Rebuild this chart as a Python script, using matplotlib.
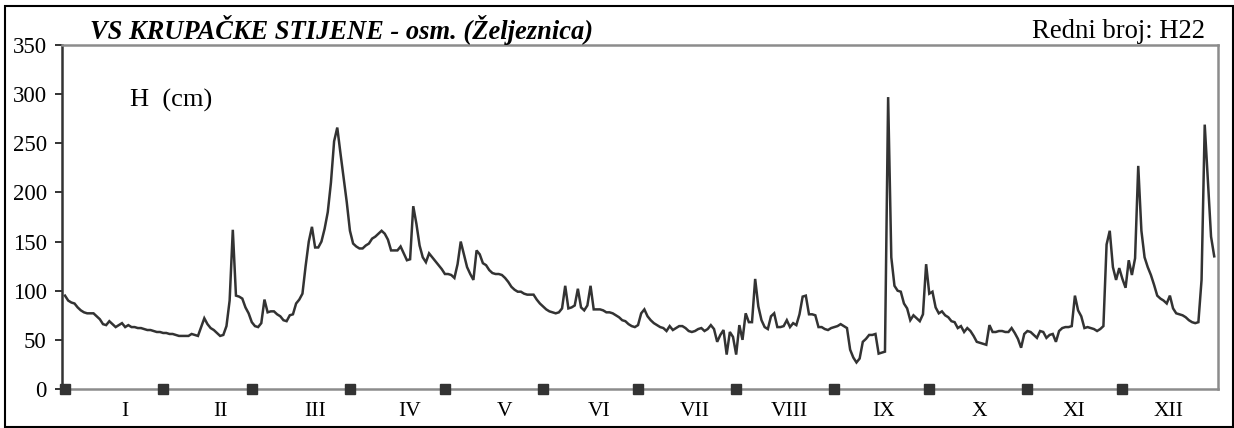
import matplotlib
matplotlib.use("Agg")
import matplotlib.pyplot as plt
import matplotlib.transforms as mtransforms
from matplotlib.patches import Rectangle
import numpy as np

plt.rcParams['font.family'] = ['Liberation Serif', 'DejaVu Serif']

# daily water level H (cm), read month by month
jan = [95, 90, 88, 87, 83, 80, 78, 77, 77, 77, 74, 71, 66, 65, 69, 66, 63, 65, 67, 63,
       65, 63, 63, 62, 62, 61, 60, 60, 59, 58, 58]
feb = [57, 57, 56, 56, 55, 54, 54, 54, 54, 56, 55, 54, 63, 72, 66, 62, 60, 57, 54, 55,
       64, 90, 162, 95, 94, 92, 83, 77]
mar = [68, 64, 63, 67, 91, 78, 79, 79, 76, 74, 70, 69, 75, 76, 87, 91, 97, 125, 150, 165,
       144, 144, 150, 163, 180, 210, 252, 266, 240, 215, 190]
apr = [161, 148, 145, 143, 143, 146, 148, 153, 155, 158, 161, 158, 152, 141, 141, 141, 145, 138, 131, 132,
       186, 168, 146, 134, 129, 138, 134, 130, 126, 122]
may = [117, 117, 116, 113, 127, 150, 137, 124, 117, 111, 141, 137, 128, 126, 121, 118, 117, 117, 116, 113,
       109, 104, 101, 99, 99, 97, 96, 96, 96, 91, 87]
jun = [84, 81, 79, 78, 77, 78, 82, 105, 82, 83, 85, 102, 83, 80, 85, 105, 81, 81, 81, 80,
       78, 78, 77, 75, 73, 70, 69, 66, 64, 63]
jul = [65, 77, 81, 74, 70, 67, 65, 63, 62, 59, 64, 60, 62, 64, 64, 62, 59, 58, 59, 61,
       62, 59, 61, 65, 61, 48, 55, 60, 35, 58, 53]
aug = [35, 65, 50, 77, 68, 68, 112, 84, 70, 63, 61, 74, 77, 63, 63, 64, 70, 63, 67, 65,
       76, 94, 95, 76, 76, 75, 63, 63, 61, 60, 62]
sep = [63, 64, 66, 64, 62, 40, 32, 27, 31, 48, 51, 55, 55, 56, 36, 37, 38, 297, 134, 105,
       100, 99, 87, 82, 70, 75, 72, 69, 76, 127]
oct_ = [97, 99, 83, 77, 79, 75, 73, 69, 68, 62, 64, 58, 62, 59, 54, 48, 47, 46, 45, 65,
        58, 58, 59, 59, 58, 58, 62, 57, 51, 42, 56]
nov = [59, 58, 55, 52, 59, 58, 52, 55, 56, 48, 59, 62, 63, 63, 64, 95, 80, 74, 62, 63,
       62, 61, 59, 61, 64, 147, 161, 124, 111, 123]
dec = [112, 103, 131, 116, 133, 227, 161, 134, 124, 116, 106, 95, 92, 90, 87, 95, 82, 77, 76, 75,
       73, 70, 68, 67, 68, 111, 269, 212, 155, 135]

months = [jan, feb, mar, apr, may, jun, jul, aug, sep, oct_, nov, dec]
month_labels = ['I', 'II', 'III', 'IV', 'V', 'VI', 'VII', 'VIII', 'IX', 'X', 'XI', 'XII']
month_starts = [0, 31, 59, 90, 120, 151, 181, 212, 243, 273, 304, 334]
y_ticks = [0, 50, 100, 150, 200, 250, 300, 350]

h = np.concatenate(months)
days = np.arange(len(h))

fig = plt.figure(figsize=(12.34, 4.28), dpi=100)
ax = fig.add_axes([62 / 1234, 1 - 389 / 428, 1155.7 / 1234, 344 / 428])

ax.plot(days, h, color='#333333', linewidth=1.8, solid_joinstyle='miter')
ax.plot(month_starts, np.zeros(len(month_starts)), 's', color='#333333',
        markersize=6.5, clip_on=False, zorder=5)

ax.set_xlim(-0.95, 364.1)
ax.set_ylim(0, 350)
ax.set_yticks(y_ticks)
ax.set_xticks([])
ax.tick_params(axis='y', direction='out', length=5, width=1.4, color='#333333',
               labelsize=16.5, pad=6)

for side in ['top', 'right', 'bottom']:
    ax.spines[side].set_color('#8c8c8c')
    ax.spines[side].set_linewidth(1.8)
ax.spines['left'].set_color('#333333')
ax.spines['left'].set_linewidth(1.8)

# month names under the axis, evenly spaced
trans = mtransforms.blended_transform_factory(ax.transData, fig.transFigure)
for i, lab in enumerate(month_labels):
    ax.text(19 + 29.96 * i, 1 - 411 / 428, lab, transform=trans, ha='center', va='center',
            fontsize=15.5)

ax.text(130 / 1234, 1 - 100 / 428, 'H  (cm)', transform=fig.transFigure, ha='left', va='center',
        fontsize=19)

fig.text(90 / 1234, 1 - 30 / 428, 'VS KRUPAČKE STIJENE - osm. (Željeznica)', ha='left', va='center',
         fontsize=19.1, fontweight='bold', fontstyle='italic')
fig.text(1205 / 1234, 1 - 31 / 428, 'Redni broj: H22', ha='right', va='center', fontsize=19.2)

# outer frame
fig.patches.append(Rectangle((5 / 1234, 1 / 428), 1228 / 1234, 421 / 428, transform=fig.transFigure,
                             fill=False, edgecolor='black', linewidth=1.5))

fig.savefig('out.png', dpi=100)
